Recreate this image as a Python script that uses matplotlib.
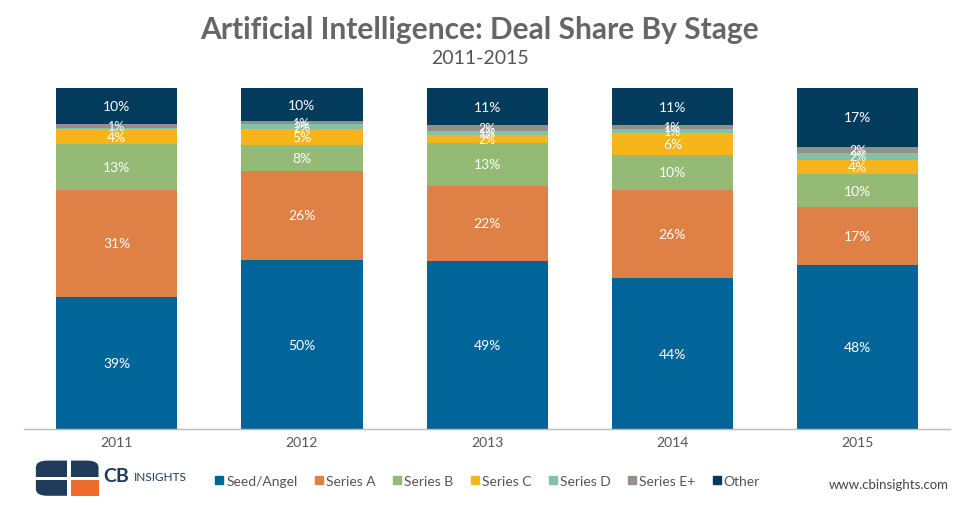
import matplotlib
matplotlib.use("Agg")
import matplotlib.pyplot as plt
from matplotlib.patches import FancyBboxPatch, Rectangle
from matplotlib.lines import Line2D
import numpy as np

years = ["2011", "2012", "2013", "2014", "2015"]
series_names = ["Seed/Angel", "Series A", "Series B", "Series C", "Series D", "Series E+", "Other"]
seed_angel = [38.8, 49.6, 49.2, 44.2, 48.1]
series_a = [31.4, 26.1, 22.2, 26.0, 17.0]
series_b = [13.3, 7.6, 12.6, 10.2, 9.7]
series_c = [4.4, 4.6, 2.3, 6.4, 4.2]
series_d = [0.3, 1.5, 1.2, 1.1, 2.0]
series_e = [1.3, 0.9, 1.6, 1.2, 1.8]
other = [10.5, 9.7, 10.9, 10.9, 17.2]
colors = ["#02659A", "#DF8047", "#94BA75", "#F5B51B", "#84C2A6", "#978D8D", "#033B5D"]

data = [seed_angel, series_a, series_b, series_c, series_d, series_e, other]

plt.rcParams['font.family'] = ['Lato', 'DejaVu Sans']

fig = plt.figure(figsize=(9.6, 5.06), dpi=100)
ax = fig.add_axes([0.025, 0.150, 0.965, 0.674])
x = np.arange(len(years))
bottom = np.zeros(len(years))
for vals, col in zip(data, colors):
    vals = np.array(vals)
    ax.bar(x, vals, bottom=bottom, width=0.655, color=col, edgecolor="none", linewidth=0)
    for xi, v, b in zip(x, vals, bottom):
        if round(v) >= 1:
            fs = 10 if v >= 3 else 9
            ax.text(xi, b + v / 2, f"{round(v)}%", ha="center", va="center",
                    color="white", fontsize=fs)
    bottom += vals

ax.set_xlim(-0.5, 4.5)
ax.set_ylim(0, 100)
ax.set_yticks([])
ax.set_xticks(x)
ax.set_xticklabels(years, fontsize=10, color="#555555")
ax.tick_params(axis="x", length=0, pad=5)
for s in ["top", "right", "left"]:
    ax.spines[s].set_visible(False)
ax.spines["bottom"].set_color("#BBBBBB")
ax.spines["bottom"].set_linewidth(1)

fig.text(0.5, 0.940, "Artificial Intelligence: Deal Share By Stage", ha="center", va="center",
         fontsize=21.5, fontweight="bold", color="#666666")
fig.text(0.5, 0.884, "2011-2015", ha="center", va="center", fontsize=14, color="#555555")

handles = [Line2D([0], [0], marker="s", linestyle="none", markersize=6,
                  markerfacecolor=c, markeredgecolor=c) for c in colors]
fig.legend(handles, series_names, loc="center", bbox_to_anchor=(0.507, 0.047), ncol=7,
           frameon=False, fontsize=10, labelcolor="#555555", handletextpad=0.1,
           columnspacing=1.15, handlelength=0.8)

# logo
lax = fig.add_axes([0.036, 0.016, 0.068, 0.074])
lax.set_xlim(0, 1)
lax.set_ylim(0, 1)
lax.axis("off")
lax.add_patch(FancyBboxPatch((0.02, 0.03), 0.96, 0.94, boxstyle="round,pad=0,rounding_size=0.18",
                             facecolor="#1E3B5A", edgecolor="none"))
lax.add_patch(Rectangle((0.56, 0.03), 0.42, 0.42, facecolor="#EF6B2E", edgecolor="none"))
lax.add_patch(Rectangle((0.49, 0.0), 0.07, 1.0, facecolor="white", edgecolor="none"))
lax.add_patch(Rectangle((0.0, 0.45), 1.0, 0.07, facecolor="white", edgecolor="none"))
fig.text(0.108, 0.058, "CB", ha="left", va="center", fontsize=14, fontweight="bold", color="#1E3B5A")
fig.text(0.139, 0.056, "INSIGHTS", ha="left", va="center", fontsize=8.5, color="#1E3B5A")

fig.text(0.988, 0.042, "www.cbinsights.com", ha="right", va="center", fontsize=9.5, color="#444444")

fig.savefig("out.png", dpi=100)
